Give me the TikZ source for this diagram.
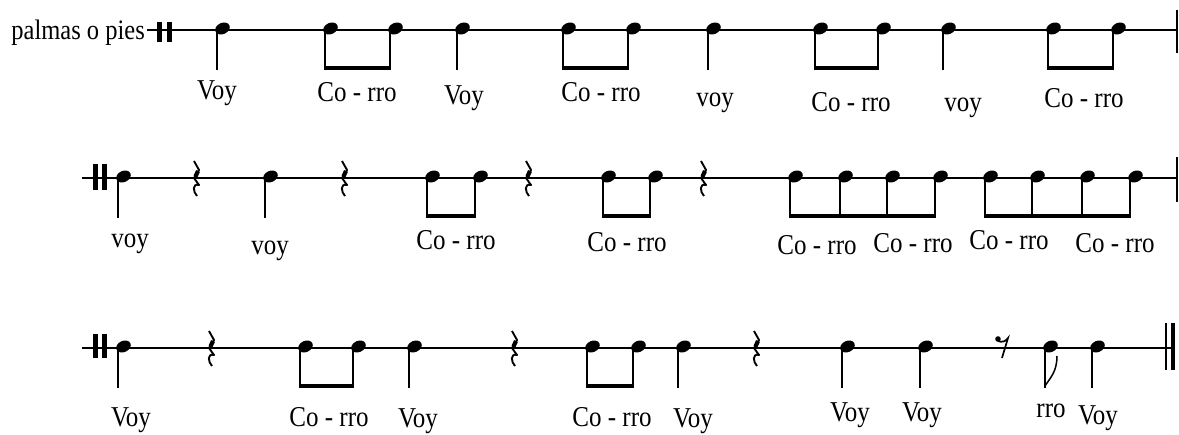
\documentclass[tikz,border=0pt]{standalone}
\usepackage{fontspec}
\usepackage{graphicx}
\setmainfont{Liberation Serif}

\tikzset{
  staffline/.style={line width=1.6pt},
  stemline/.style={line width=1.7pt},
  beamline/.style={line width=4.5pt},
  thickbar/.style={line width=4.5pt},
  lyric/.style={anchor=base, inner sep=0pt, font=\fontsize{25}{28}\selectfont},
}

% taller type, as in the scan
\newcommand{\Tall}[1]{\scalebox{1}[1.15]{#1}}
% note with stem down: #1 stem x, #2 staff y
\newcommand{\Nt}[2]{%
  \fill[shift={(#1+5.5,#2-1.5)}, rotate=-25] (0,0) ellipse [x radius=7.6, y radius=5.6];
  \draw[stemline] (#1,#2) -- (#1,#2+40);
}
% beam between two stems
\newcommand{\Bm}[3]{\draw[beamline] (#1-0.8,#3+37.8) -- (#2+0.8,#3+37.8);}
% quarter rest
\newcommand{\Rst}[2]{%
  \draw[line width=1.9pt, line join=round] (#1-1,#2-17) -- (#1+4,#2-8) -- (#1-1,#2) -- (#1+4,#2+7)
    .. controls (#1-3,#2+5) and (#1-2,#2+14) .. (#1+2,#2+18);
  \draw[line width=4.2pt] (#1+3,#2-7) -- (#1+0.5,#2-1.5);
}
% eighth rest
\newcommand{\ERst}[2]{%
  \fill (#1-4,#2-9) circle (2.8);
  \draw[line width=1.7pt] (#1-4,#2-7) .. controls (#1,#2-5) and (#1+4,#2-7) .. (#1+6,#2-10) -- (#1,#2+10);
}

\begin{document}
\begin{tikzpicture}[x=1pt,y=1pt,yscale=-1]
\useasboundingbox (0,0) rectangle (1179,435);

%%% row 1
\node[lyric, anchor=base east, font=\fontsize{24.5}{26}\selectfont] (palmas) at (145,40) {\Tall{palmas o pies}};
\draw[staffline] (147,30) -- (1177,30);
\draw[thickbar] (159.5,22) -- (159.5,42);
\draw[thickbar] (169.5,22) -- (169.5,42);
\draw[stemline] (1177,10) -- (1177,53);
\foreach \x in {217,325,390,457,563,628,708,815,878,943,1048,1113} {\Nt{\x}{30}}
\Bm{325}{390}{30}
\Bm{563}{628}{30}
\Bm{815}{878}{30}
\Bm{1048}{1113}{30}
\foreach \x/\y/\t [count=\i] in {217/100/Voy, 357/102/Co - rro, 464/105/Voy, 601/102/Co - rro,
    715/107/voy, 851/112/Co - rro, 963/112/voy, 1084/108/Co - rro}
  \node[lyric] (a\i) at (\x,\y) {\Tall{\t}};

%%% row 2
\draw[staffline] (82,178) -- (1177,178);
\draw[thickbar] (95.5,164) -- (95.5,190);
\draw[thickbar] (104.5,164) -- (104.5,190);
\draw[stemline] (1177,157) -- (1177,202);
\foreach \x in {118,265,427,475,603,650,790,840,887,935,985,1032,1082,1130} {\Nt{\x}{178}}
\foreach \x in {195,343,527,702} {\Rst{\x}{178}}
\Bm{427}{475}{178}
\Bm{603}{650}{178}
\Bm{790}{935}{178}
\Bm{985}{1130}{178}
\foreach \x/\y/\t [count=\i] in {130/248/voy, 270/255/voy, 456/250/Co - rro, 627/252/Co - rro,
    817/255/Co - rro, 913/253/Co - rro, 1009/250/Co - rro, 1115/253/Co - rro}
  \node[lyric] (b\i) at (\x,\y) {\Tall{\t}};

%%% row 3
\draw[staffline] (82,348) -- (1173,348);
\draw[thickbar] (95.5,334) -- (95.5,358);
\draw[thickbar] (104.5,334) -- (104.5,358);
\draw[stemline] (1166,323) -- (1166,370);
\draw[thickbar] (1173,323) -- (1173,370);
\foreach \x in {118,300,353,409,587,633,678,842,920,1045,1092} {\Nt{\x}{348}}
\foreach \x in {210,513,755} {\Rst{\x}{348}}
\ERst{1002}{348}
\Bm{300}{353}{348}
\Bm{587}{633}{348}
% flag
\draw[line width=1.5pt] (1045,386) .. controls (1050,378) and (1057,372) .. (1057,356);
\foreach \x/\y/\t [count=\i] in {131/427/Voy, 329/427/Co - rro, 418/428/Voy, 612/427/Co - rro,
    693/428/Voy, 850/422/Voy, 922/422/Voy, 1051/418/rro, 1098/425/Voy}
  \node[lyric] (c\i) at (\x,\y) {\Tall{\t}};
\end{tikzpicture}
\end{document}
